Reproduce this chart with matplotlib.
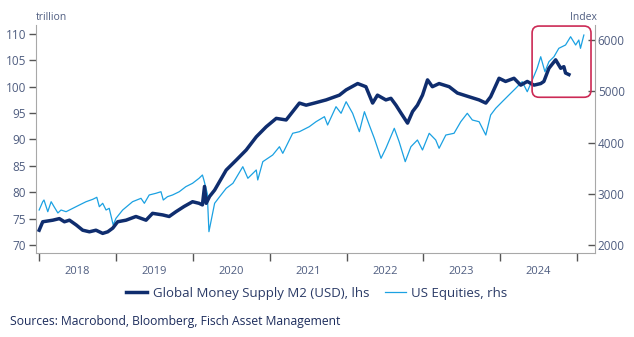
import pandas as pd
import matplotlib
matplotlib.use("Agg")
import matplotlib.pyplot as plt
import matplotlib.dates as mdates
from matplotlib.patches import FancyBboxPatch

# Global money supply M2 (USD trillion), left axis
m2_dates = [
    "2018-01-01", "2018-01-18", "2018-03-07", "2018-04-07", "2018-05-01", "2018-05-25",
    "2018-06-26", "2018-07-27", "2018-08-28", "2018-09-28", "2018-10-30", "2018-11-23",
    "2018-12-17", "2019-01-09", "2019-02-18", "2019-04-06", "2019-05-24", "2019-06-24",
    "2019-08-11", "2019-09-11", "2019-10-13", "2019-11-21", "2019-12-31", "2020-01-31",
    "2020-02-16", "2020-02-26", "2020-03-05", "2020-03-21", "2020-04-14", "2020-06-08",
    "2020-07-26", "2020-09-11", "2020-10-29", "2020-12-15", "2021-02-01", "2021-03-20",
    "2021-05-22", "2021-06-23", "2021-08-01", "2021-09-26", "2021-11-28", "2021-12-30",
    "2022-02-23", "2022-04-03", "2022-05-05", "2022-05-28", "2022-07-07", "2022-07-31",
    "2022-08-24", "2022-09-17", "2022-10-18", "2022-11-11", "2022-12-04", "2022-12-28",
    "2023-01-21", "2023-02-13", "2023-03-17", "2023-05-04", "2023-06-12", "2023-07-29",
    "2023-09-23", "2023-10-25", "2023-11-17", "2023-12-27", "2024-01-27", "2024-03-07",
    "2024-04-08", "2024-05-09", "2024-06-10", "2024-07-12", "2024-07-27", "2024-08-20",
    "2024-09-21", "2024-10-15", "2024-10-30", "2024-11-07", "2024-11-23",
]
m2_values = [
    72.8, 74.4, 74.7, 75.0, 74.4, 74.7,
    73.8, 72.8, 72.5, 72.8, 72.2, 72.5,
    73.2, 74.4, 74.7, 75.4, 74.7, 76.0,
    75.7, 75.4, 76.3, 77.3, 78.2, 77.9,
    77.6, 81.1, 77.9, 79.2, 80.4, 84.2,
    86.1, 88.0, 90.5, 92.4, 94.0, 93.7,
    96.9, 96.5, 96.9, 97.5, 98.4, 99.4,
    100.6, 100.0, 96.9, 98.4, 97.5, 97.8,
    96.5, 95.0, 93.1, 95.3, 96.5, 98.4,
    101.3, 100.0, 100.6, 100.0, 98.8, 98.2,
    97.5, 96.9, 98.1, 101.6, 101.0, 101.6,
    100.3, 101.0, 100.3, 100.6, 101.0, 103.5,
    105.1, 103.5, 103.8, 102.6, 102.3,
]

# US equities (index), right axis
eq_dates = [
    "2018-01-01", "2018-01-18", "2018-01-24", "2018-02-11", "2018-02-27", "2018-03-13",
    "2018-03-31", "2018-04-15", "2018-05-09", "2018-06-10", "2018-07-11", "2018-08-12",
    "2018-09-13", "2018-10-02", "2018-10-14", "2018-10-30", "2018-11-15", "2018-11-30",
    "2018-12-19", "2019-01-01", "2019-02-02", "2019-03-21", "2019-04-30", "2019-05-16",
    "2019-06-08", "2019-07-10", "2019-08-03", "2019-08-14", "2019-09-03", "2019-09-27",
    "2019-10-29", "2019-11-29", "2019-12-31", "2020-01-31", "2020-02-16", "2020-02-23",
    "2020-03-10", "2020-03-18", "2020-04-14", "2020-05-08", "2020-06-08", "2020-07-10",
    "2020-08-26", "2020-09-19", "2020-10-29", "2020-11-05", "2020-11-29", "2021-01-15",
    "2021-02-16", "2021-03-04", "2021-04-20", "2021-05-22", "2021-07-08", "2021-08-09",
    "2021-09-18", "2021-10-03", "2021-11-12", "2021-12-06", "2021-12-30", "2022-01-30",
    "2022-03-03", "2022-03-27", "2022-04-19", "2022-05-13", "2022-06-14", "2022-07-07",
    "2022-08-16", "2022-09-08", "2022-10-07", "2022-11-03", "2022-12-04", "2022-12-28",
    "2023-01-29", "2023-03-01", "2023-03-17", "2023-04-18", "2023-05-27", "2023-06-28",
    "2023-07-29", "2023-08-22", "2023-09-23", "2023-10-25", "2023-11-17", "2023-12-11",
    "2024-01-11", "2024-02-12", "2024-03-15", "2024-04-15", "2024-05-09", "2024-06-02",
    "2024-06-25", "2024-07-12", "2024-08-01", "2024-08-20", "2024-09-13", "2024-10-06",
    "2024-11-07", "2024-12-01", "2024-12-25", "2025-01-09", "2025-01-17", "2025-02-02",
]
eq_values = [
    2683, 2845, 2878, 2650, 2845, 2747,
    2625, 2683, 2650, 2716, 2780, 2845,
    2892, 2931, 2747, 2814, 2683, 2716,
    2390, 2520, 2683, 2845, 2911, 2814,
    2976, 3009, 3040, 2878, 2943, 2976,
    3040, 3138, 3204, 3302, 3366, 3269,
    3009, 2260, 2814, 2943, 3106, 3204,
    3528, 3302, 3464, 3269, 3626, 3756,
    3918, 3789, 4180, 4211, 4309, 4406,
    4504, 4342, 4699, 4570, 4796, 4570,
    4211, 4601, 4342, 4082, 3692, 3887,
    4277, 4016, 3626, 3918, 4049, 3854,
    4180, 4049, 3887, 4146, 4180, 4406,
    4570, 4439, 4406, 4146, 4537, 4667,
    4796, 4927, 5057, 5187, 4991, 5220,
    5448, 5674, 5382, 5577, 5674, 5838,
    5903, 6064, 5903, 6000, 5838, 6097,
]

left_ticks = [70, 75, 80, 85, 90, 95, 100, 105, 110]
right_ticks = [2000, 3000, 4000, 5000, 6000]
years = [2018, 2019, 2020, 2021, 2022, 2023, 2024]

# highlight box: dates and left-axis values
box_dates = ["2024-06-01", "2025-03-08"]
box_values = [98.0, 111.5]

DARK = "#0f2d6e"
LIGHT = "#1ba1e2"
TXT = "#4f5d80"
SPINE = "#a8a8a8"

plt.rcParams["font.family"] = ["Open Sans", "DejaVu Sans"]

fig = plt.figure(figsize=(6.34, 3.37), dpi=100)
ax = fig.add_axes([36 / 634, 1 - 253 / 337, (595 - 36) / 634, (253 - 25) / 337])
ax2 = ax.twinx()
ax.set_zorder(ax2.get_zorder() + 1)
ax.patch.set_visible(False)

eq_x = pd.to_datetime(eq_dates)
m2_x = pd.to_datetime(m2_dates)
ax2.plot(eq_x, eq_values, color=LIGHT, lw=0.9, label="US Equities, rhs")
ax.plot(m2_x, m2_values, color=DARK, lw=2.5, solid_joinstyle="round",
        label="Global Money Supply M2 (USD), lhs")

ax.set_xlim(pd.Timestamp("2017-12-17"), pd.Timestamp("2025-03-27"))
ax.set_ylim(68.48, 111.7)
ax2.set_ylim(1844, 6293)
ax.set_yticks(left_ticks)
ax2.set_yticks(right_ticks)

ax.xaxis.set_major_locator(mdates.YearLocator())
ax.xaxis.set_major_formatter(plt.NullFormatter())
ax.set_xticks([pd.Timestamp(f"{y}-07-02") for y in years], minor=True)
ax.set_xticklabels([str(y) for y in years], minor=True)
ax.tick_params(axis="x", which="major", length=6, width=1, color="#555555", direction="out")
ax.tick_params(axis="x", which="minor", length=0, pad=9, labelsize=8, labelcolor=TXT)
ax.tick_params(axis="y", length=5, width=1, color="#555555", labelsize=8.5, labelcolor=TXT, pad=2)
ax2.tick_params(axis="y", length=5, width=1, color="#555555", direction="in",
                labelsize=8.5, labelcolor=TXT, pad=2)

for a in (ax, ax2):
    a.spines["top"].set_visible(False)
    for s in ("left", "right", "bottom"):
        a.spines[s].set_color(SPINE)
ax.spines["right"].set_visible(False)
ax2.spines["left"].set_visible(False)
ax2.spines["bottom"].set_visible(False)

fig.text(36 / 634, 1 - 17 / 337, "trillion", fontsize=7.5, color=TXT, ha="left", va="center")
fig.text(597 / 634, 1 - 17 / 337, "Index", fontsize=7.5, color=TXT, ha="right", va="center")

# highlight box, built in display coordinates so the corners stay round
x0, x1 = mdates.date2num(pd.to_datetime(box_dates))
p0 = ax.transData.transform((x0, box_values[0]))
p1 = ax.transData.transform((x1, box_values[1]))
box = FancyBboxPatch((p0[0], p0[1]), p1[0] - p0[0], p1[1] - p0[1],
                     boxstyle="round,pad=0,rounding_size=7", transform=None,
                     fill=False, edgecolor="#cc2a55", lw=1.2, zorder=10)
fig.patches.append(box)

h1, l1 = ax.get_legend_handles_labels()
h2, l2 = ax2.get_legend_handles_labels()
fig.legend(h1 + h2, l1 + l2, loc="center", bbox_to_anchor=(0.5, 1 - 293 / 337), ncol=2,
           frameon=False, fontsize=9.5, handlelength=1.6, columnspacing=1.2,
           handletextpad=0.4, labelcolor="#2a3a66")

fig.text(10 / 634, 1 - 321 / 337, "Sources: Macrobond, Bloomberg, Fisch Asset Management",
         fontsize=8.7, color="#1c2c5c", ha="left", va="center")

fig.savefig("out.png", dpi=100)
